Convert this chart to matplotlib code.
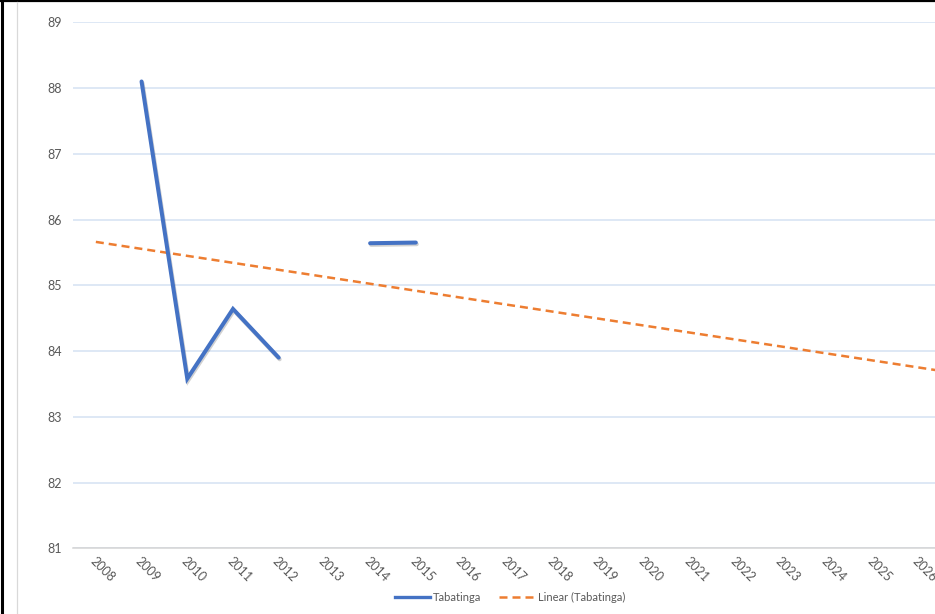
import numpy as np
import matplotlib
matplotlib.use("Agg")
import matplotlib.pyplot as plt
import matplotlib.patheffects as pe
from matplotlib.lines import Line2D
from matplotlib.transforms import ScaledTranslation

# ---- data ----
years = [str(y) for y in range(2008, 2027)]
tabatinga = [np.nan, 88.10, 83.58, 84.64, 83.90, np.nan, 85.64, 85.65] + [np.nan] * 11
trend_years = ["2008", "2026"]
trend_values = [85.66, 83.75]
y_ticks = [81, 82, 83, 84, 85, 86, 87, 88, 89]

W, H = 935, 614
plt.rcParams['font.family'] = ['Lato', 'DejaVu Sans']
fig = plt.figure(figsize=(W / 100, H / 100), dpi=100)

left, right = 73, 941.5
top, bottom = 22.3, 548.3
ax = fig.add_axes([left / W, 1 - bottom / H, (right - left) / W, (bottom - top) / H])

x = np.arange(len(years))
ax.plot(x, tabatinga, color='#4472C4', linewidth=2.9, solid_capstyle='round',
        solid_joinstyle='miter', zorder=3,
        path_effects=[pe.SimpleLineShadow(offset=(0.7, -1.2), shadow_color='#000000', alpha=0.18),
                      pe.Normal()])

# linear trendline through the two read values, extended to the plot edge
tx = [years.index(t) for t in trend_years]
slope = (trend_values[1] - trend_values[0]) / (tx[1] - tx[0])
tx_ext = [tx[0], len(years) - 0.5]
ty_ext = [trend_values[0], trend_values[0] + slope * (tx_ext[1] - tx[0])]
tl, = ax.plot(tx_ext, ty_ext, color='#ED7D31', linewidth=1.8, zorder=2)
tl.set_dashes((3.2, 2.0))

ax.set_xlim(-0.5, len(years) - 0.5)
ax.set_ylim(y_ticks[0], y_ticks[-1])
ax.set_yticks(y_ticks)
ax.set_xticks(x)
ax.set_xticklabels(years)
ax.grid(axis='y', color='#d5e2f2', linewidth=1.1)
ax.set_axisbelow(True)
for s in ['top', 'right', 'left']:
    ax.spines[s].set_visible(False)
ax.spines['bottom'].set_color('#d4d4d4')
ax.spines['bottom'].set_linewidth(1.1)
ax.tick_params(axis='both', length=0, colors='#595959', labelsize=9)
ax.tick_params(axis='y', pad=8)
ax.tick_params(axis='x', pad=7.5)
off = ScaledTranslation(-4 / 100, 0, fig.dpi_scale_trans)
for lab in ax.get_xticklabels():
    lab.set_rotation(-45)
    lab.set_rotation_mode('anchor')
    lab.set_ha('left')
    lab.set_va('center')
    lab.set_transform(lab.get_transform() + off)

# legend
h1 = Line2D([], [], color='#4472C4', linewidth=2.4)
h2 = Line2D([], [], color='#ED7D31', linewidth=1.8)
h2.set_dashes((3.2, 2.0))
leg = fig.legend([h1, h2], ['Tabatinga', 'Linear (Tabatinga)'], loc='center',
                 bbox_to_anchor=(510 / W, 1 - 597 / H), ncol=2, frameon=False,
                 fontsize=8, handlelength=3.2, handletextpad=0.27, columnspacing=1.6)
for t in leg.get_texts():
    t.set_color('#595959')

# frame borders
fig.add_artist(Line2D([1.5 / W, 1.5 / W], [0, 1], color='black', linewidth=2.2, transform=fig.transFigure))
fig.add_artist(Line2D([0, 1], [1 - 1 / H, 1 - 1 / H], color='black', linewidth=1.6, transform=fig.transFigure))
fig.add_artist(Line2D([16.5 / W, 16.5 / W], [0, 1 - 2 / H], color='#d9d9d9', linewidth=0.9, transform=fig.transFigure))

fig.savefig('out.png', dpi=100)
